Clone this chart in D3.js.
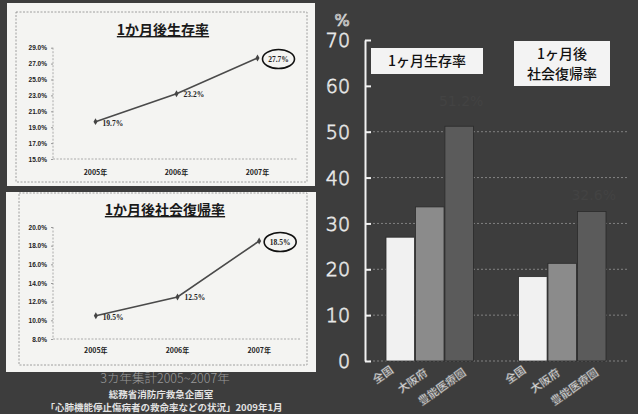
<!DOCTYPE html>
<html>
<head>
<meta charset="utf-8">
<script src="https://cdn.jsdelivr.net/npm/d3@7"></script>
<style>
  html, body { margin: 0; padding: 0; background: #3d3d3d; }
  svg { display: block; }
</style>
</head>
<body>
<svg id="chart" width="638" height="414"></svg>
<script>
// ---- data ----
const years = ["2005年", "2006年", "2007年"];
const survivalRate = [19.7, 23.2, 27.7];          // 1か月後生存率 (%)
const socialReturnRate = [10.5, 12.5, 18.5];      // 1か月後社会復帰率 (%)
const survivalTicks = [15, 17, 19, 21, 23, 25, 27, 29];
const socialReturnTicks = [8, 10, 12, 14, 16, 18, 20];

const barGroups = ["1ヶ月生存率", "1ヶ月後社会復帰率"];
const regions = ["全国", "大阪府", "豊能医療圏"];
const regionSurvival = [27.0, 33.6, 51.2];
const regionSocialReturn = [18.4, 21.3, 32.6];
const barTicks = [0, 10, 20, 30, 40, 50, 60, 70];
const gridTicks = [0, 10, 20, 30, 40, 50];

const svg = d3.select("#chart");
const W = 638, H = 414;
svg.append("rect").attr("width", W).attr("height", H).attr("fill", "#3d3d3d");

const jp = "'Noto Sans CJK JP', 'Noto Sans', sans-serif";

// ---- left: two small line charts on white panels ----
function lineChart(cfg) {
  const g = svg.append("g");
  g.append("rect")
    .attr("x", cfg.panel[0]).attr("y", cfg.panel[1])
    .attr("width", cfg.panel[2]).attr("height", cfg.panel[3])
    .attr("fill", "#f4f4f2");
  g.append("rect")
    .attr("x", cfg.border[0]).attr("y", cfg.border[1])
    .attr("width", cfg.border[2]).attr("height", cfg.border[3])
    .attr("fill", "none").attr("stroke", "#8a8a8a")
    .attr("stroke-width", 0.8).attr("stroke-dasharray", "2,1.5");

  g.append("text")
    .attr("x", cfg.titleX).attr("y", cfg.titleY)
    .attr("text-anchor", "middle")
    .attr("font-family", jp).attr("font-weight", 700)
    .attr("font-size", 14).attr("fill", "#1a1a1a")
    .attr("text-decoration", "underline")
    .text(cfg.title);

  const x = d3.scalePoint().domain(years).range(cfg.xRange).padding(0.5);
  const y = d3.scaleLinear().domain(cfg.yDomain).range(cfg.yRange);

  // axis + baseline (dashed)
  g.append("line")
    .attr("x1", cfg.axisX).attr("x2", cfg.axisX)
    .attr("y1", y(cfg.yDomain[1])).attr("y2", y(cfg.yDomain[0]))
    .attr("stroke", "#9a9a9a").attr("stroke-width", 0.8).attr("stroke-dasharray", "2,1.5");
  g.append("line")
    .attr("x1", cfg.axisX).attr("x2", cfg.xRange[1])
    .attr("y1", y(cfg.yDomain[0])).attr("y2", y(cfg.yDomain[0]))
    .attr("stroke", "#9a9a9a").attr("stroke-width", 0.8).attr("stroke-dasharray", "2,1.5");

  const yAxis = d3.axisLeft(y).tickValues(cfg.ticks)
    .tickFormat(d => d.toFixed(1) + "%").tickSize(2).tickPadding(4);
  const ya = g.append("g").attr("transform", `translate(${cfg.axisX},0)`).call(yAxis);
  ya.select(".domain").remove();
  ya.selectAll("line").attr("stroke", "#9a9a9a");
  ya.selectAll("text").attr("font-family", "'Liberation Sans', Arial, sans-serif")
    .attr("font-weight", 700).attr("font-size", 6.5).attr("fill", "#222");

  g.selectAll(".xl").data(years).enter().append("text")
    .attr("x", d => x(d)).attr("y", cfg.xLabelY)
    .attr("text-anchor", "middle")
    .attr("font-family", jp).attr("font-weight", 700)
    .attr("font-size", 7).attr("fill", "#222")
    .text(d => d);

  const line = d3.line().x((d, i) => x(years[i])).y(d => y(d));
  g.append("path").datum(cfg.values).attr("d", line)
    .attr("fill", "none").attr("stroke", "#4a4a4a").attr("stroke-width", 1.6);

  g.selectAll(".pt").data(cfg.values).enter().append("path")
    .attr("transform", (d, i) => `translate(${x(years[i])},${y(d)})`)
    .attr("d", d3.symbol().type(d3.symbolDiamond).size(14))
    .attr("fill", "#444");

  // value labels (the last one is circled)
  const n = cfg.values.length;
  g.selectAll(".vl").data(cfg.values.slice(0, n - 1)).enter().append("text")
    .attr("x", (d, i) => x(years[i]) + 7).attr("y", (d, i) => y(d) + cfg.labelDy[i])
    .attr("font-family", "'Liberation Serif', serif").attr("font-weight", 700)
    .attr("font-size", 7.5).attr("fill", "#222")
    .text(d => d.toFixed(1) + "%");
  const last = cfg.values[n - 1];
  const ex = x(years[n - 1]) + 21, ey = y(last) + 1;
  g.append("ellipse").attr("cx", ex).attr("cy", ey).attr("rx", 16).attr("ry", 9.5)
    .attr("fill", "none").attr("stroke", "#111").attr("stroke-width", 1.6);
  g.append("text").attr("x", ex).attr("y", ey + 2.5).attr("text-anchor", "middle")
    .attr("font-family", "'Liberation Serif', serif").attr("font-weight", 700)
    .attr("font-size", 7.5).attr("fill", "#222")
    .text(last.toFixed(1) + "%");
}

lineChart({
  panel: [7, 3, 308, 183], border: [16, 12, 291, 170],
  title: "1か月後生存率", titleX: 163, titleY: 35,
  xRange: [55, 298], axisX: 53,
  yDomain: [15, 29], yRange: [159, 47.7], ticks: survivalTicks,
  values: survivalRate, xLabelY: 175, labelDy: [4, 3]
});
lineChart({
  panel: [6, 192, 310, 180], border: [19, 193, 288, 172],
  title: "1か月後社会復帰率", titleX: 165, titleY: 215,
  xRange: [55, 300], axisX: 53,
  yDomain: [8, 20], yRange: [339, 227], ticks: socialReturnTicks,
  values: socialReturnRate, xLabelY: 353, labelDy: [4, 3]
});

// captions under the left panels
svg.append("text").attr("x", 165).attr("y", 383).attr("text-anchor", "middle")
  .attr("font-family", jp).attr("font-weight", 300).attr("font-size", 12.5)
  .attr("fill", "#9a9a9a").text("3カ年集計2005~2007年");
svg.append("text").attr("x", 161).attr("y", 398).attr("text-anchor", "middle")
  .attr("font-family", jp).attr("font-weight", 700).attr("font-size", 9.5)
  .attr("fill", "#e2e2e2").text("総務省消防庁救急企画室");
svg.append("text").attr("x", 164).attr("y", 411.2).attr("text-anchor", "middle")
  .attr("font-family", jp).attr("font-weight", 700).attr("font-size", 9.5)
  .attr("fill", "#e2e2e2").text("「心肺機能停止傷病者の救命率などの状況」2009年1月");

// ---- right: grouped bar chart ----
const yB = d3.scaleLinear().domain([0, 70]).range([361, 40]);
const x0 = d3.scaleBand().domain(barGroups).range([386, 606]).paddingInner(0.34);
const x1 = d3.scaleBand().domain(regions).range([0, x0.bandwidth()]).paddingInner(0.03);
const barFill = { "全国": "#f1f1f1", "大阪府": "#8b8b8b", "豊能医療圏": "#5b5b5b" };

const bg = svg.append("g");
bg.selectAll(".grid").data(gridTicks).enter().append("line")
  .attr("x1", 365).attr("x2", 627)
  .attr("y1", d => yB(d)).attr("y2", d => yB(d))
  .attr("stroke", "#8a8a8a").attr("stroke-width", 0.9).attr("stroke-dasharray", "2,2");

const series = [regionSurvival, regionSocialReturn];
barGroups.forEach((grp, gi) => {
  const gg = bg.append("g").attr("transform", `translate(${x0(grp)},0)`);
  gg.selectAll("rect").data(regions).enter().append("rect")
    .attr("x", d => x1(d)).attr("width", x1.bandwidth())
    .attr("y", (d, i) => yB(series[gi][i]))
    .attr("height", (d, i) => yB(0) - yB(series[gi][i]))
    .attr("fill", d => barFill[d]).attr("stroke", "#2a2a2a").attr("stroke-width", 0.8);
  gg.selectAll(".lbl").data(regions).enter().append("text")
    .attr("transform", (d, i) => `translate(${x1(d) + x1.bandwidth() / 2 - 15},${378 + i * 6}) rotate(-35)`)
    .attr("text-anchor", "middle")
    .attr("font-family", jp).attr("font-weight", 700).attr("font-size", 11)
    .attr("fill", "#d8d8d8").attr("stroke", "#6a6a6a").attr("stroke-width", 0.4)
    .text(d => d);
  // faint value label above the tallest bar
  const top = regions.length - 1;
  gg.append("text")
    .attr("x", x1(regions[top]) + x1.bandwidth() / 2 + 2)
    .attr("y", yB(series[gi][top]) - (gi === 0 ? 20 : 12))
    .attr("text-anchor", "middle")
    .attr("font-family", "'DejaVu Sans', sans-serif").attr("font-size", 14)
    .attr("fill", "#434343")
    .text(series[gi][top].toFixed(1) + "%");
});

// y axis with ticks pointing inward
const yAxisB = d3.axisLeft(yB).tickValues(barTicks)
  .tickSizeInner(-6).tickSizeOuter(0).tickPadding(15);
const ax = svg.append("g").attr("transform", "translate(365,0)").call(yAxisB);
ax.select(".domain").attr("stroke", "#f2f2f2").attr("stroke-width", 2);
ax.selectAll(".tick line").attr("stroke", "#f2f2f2").attr("stroke-width", 2);
ax.selectAll(".tick text")
  .attr("font-family", "'DejaVu Sans', sans-serif").attr("font-size", 19)
  .attr("font-weight", 300)
  .attr("fill", "#555").attr("stroke", "#e8e8e8").attr("stroke-width", 0.8)
  .attr("dy", "0.35em");
svg.append("text").attr("x", 342).attr("y", 26).attr("text-anchor", "middle")
  .attr("font-family", "'DejaVu Sans', sans-serif").attr("font-size", 16)
  .attr("fill", "#555").attr("stroke", "#e8e8e8").attr("stroke-width", 0.7)
  .text("%");

// group title boxes
svg.append("rect").attr("x", 371).attr("y", 48).attr("width", 112).attr("height", 26)
  .attr("fill", "#f3f3f3");
svg.append("text").attr("x", 427).attr("y", 66).attr("text-anchor", "middle")
  .attr("font-family", jp).attr("font-weight", 500).attr("font-size", 14)
  .attr("fill", "#111").text(barGroups[0]);
svg.append("rect").attr("x", 514).attr("y", 41).attr("width", 96).attr("height", 45)
  .attr("fill", "#f3f3f3");
const t2 = svg.append("text").attr("text-anchor", "middle")
  .attr("font-family", jp).attr("font-weight", 500).attr("font-size", 14).attr("fill", "#111");
t2.append("tspan").attr("x", 562).attr("y", 59).text("1ヶ月後");
t2.append("tspan").attr("x", 562).attr("y", 79).text("社会復帰率");
</script>
</body>
</html>
